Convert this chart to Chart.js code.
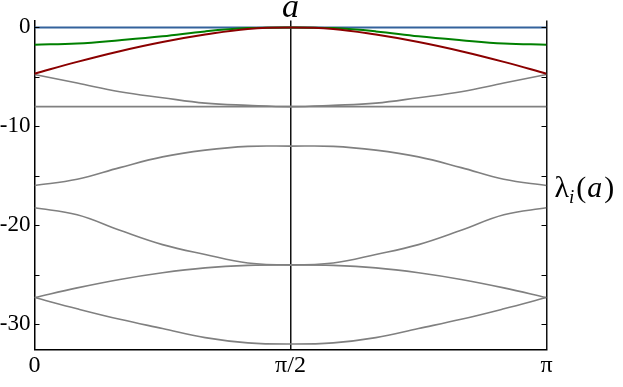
<!DOCTYPE html>
<html>
<head>
<meta charset="utf-8">
<script src="https://cdn.jsdelivr.net/npm/chart.js@4.4.0/dist/chart.umd.min.js"></script>
<style>
  body { margin: 0; background: #fff; }
</style>
</head>
<body>
<canvas id="myChart" width="623" height="387"></canvas>
<script>
// parameter a, sampled every pi/12 from 0 to pi
var aValues = [0, Math.PI / 12, 2 * Math.PI / 12, 3 * Math.PI / 12, 4 * Math.PI / 12, 5 * Math.PI / 12,
  6 * Math.PI / 12, 7 * Math.PI / 12, 8 * Math.PI / 12, 9 * Math.PI / 12, 10 * Math.PI / 12, 11 * Math.PI / 12, Math.PI];

// eigenvalue branches lambda_i(a)
var lambdaBlue  = [0, 0, 0, 0, 0, 0, 0, 0, 0, 0, 0, 0, 0];
var lambdaGreen = [-1.75, -1.62, -1.29, -0.9, -0.4, -0.07, 0, -0.07, -0.4, -0.9, -1.29, -1.62, -1.75];
var lambdaRed   = [-4.68, -3.48, -2.4, -1.47, -0.72, -0.15, 0, -0.15, -0.72, -1.47, -2.4, -3.48, -4.68];
var lambda4 = [-4.75, -5.62, -6.5, -7.1, -7.65, -7.87, -8, -7.87, -7.65, -7.1, -6.5, -5.62, -4.75];
var lambda5 = [-8, -8, -8, -8, -8, -8, -8, -8, -8, -8, -8, -8, -8];
var lambda6 = [-15.97, -15.35, -14.17, -13.08, -12.4, -12.02, -12, -12.02, -12.4, -13.08, -14.17, -15.35, -15.97];
var lambda7 = [-18.23, -18.93, -20.5, -21.95, -22.95, -23.8, -24, -23.8, -22.95, -21.95, -20.5, -18.93, -18.23];
var lambda8 = [-27.3, -26.32, -25.47, -24.79, -24.3, -24.05, -24, -24.05, -24.3, -24.79, -25.47, -26.32, -27.3];
var lambda9 = [-27.3, -28.44, -29.5, -30.43, -31.35, -31.88, -32, -31.88, -31.35, -30.43, -29.5, -28.44, -27.3];

var xTickValues = [0, Math.PI / 2, Math.PI];
var xTickLabels = ['0', 'π/2', 'π'];
var yTickValues = [0, -10, -20, -30];
var yTickLabels = ['0', '-10', '-20', '-30'];
var yMinorTicks = [-5, -15, -25];

var serif = '"Liberation Serif", "DejaVu Serif", serif';

function toPoints(ys) {
  return ys.map(function(y, i) { return { x: aValues[i], y: y }; });
}

function line(data, color, width) {
  return {
    data: toPoints(data),
    borderColor: color,
    borderWidth: width,
    pointRadius: 0,
    fill: false,
    tension: 0.4
  };
}

// inward ticks on both sides + axis texts
var extras = {
  id: 'extras',
  afterDraw: function(chart) {
    var ctx = chart.ctx;
    var area = chart.chartArea;
    var yScale = chart.scales.y;
    var xScale = chart.scales.x;
    ctx.save();
    ctx.strokeStyle = '#000';
    ctx.lineWidth = 1;
    yTickValues.concat(yMinorTicks).forEach(function(v) {
      var py = Math.round(yScale.getPixelForValue(v)) + 0.5;
      ctx.beginPath();
      ctx.moveTo(area.left, py);
      ctx.lineTo(area.left + 5, py);
      ctx.moveTo(area.right, py);
      ctx.lineTo(area.right - 5, py);
      ctx.stroke();
    });

    ctx.fillStyle = '#000';
    ctx.textBaseline = 'alphabetic';
    ctx.textAlign = 'center';
    ctx.font = 'italic 34px ' + serif;
    ctx.fillText('a', xScale.getPixelForValue(Math.PI / 2), 16.5);

    // lambda_i(a) on the right
    var x = area.right + 8;
    var base = (area.top + area.bottom) / 2 + 12;
    ctx.textAlign = 'left';
    ctx.font = '30px ' + serif;
    ctx.fillText('λ', x, base);
    x += ctx.measureText('λ').width;
    ctx.font = 'italic 19px ' + serif;
    ctx.fillText('i', x, base + 6);
    x += ctx.measureText('i').width + 2;
    ctx.font = '30px ' + serif;
    ctx.fillText('(', x, base);
    x += ctx.measureText('(').width + 1;
    ctx.font = 'italic 30px ' + serif;
    ctx.fillText('a', x, base);
    x += ctx.measureText('a').width + 2;
    ctx.font = '30px ' + serif;
    ctx.fillText(')', x, base);
    ctx.restore();
  }
};

function getChart() {
  var ctx = document.getElementById('myChart').getContext('2d');
  var myChart = new Chart(ctx, {
    type: 'line',
    data: {
      datasets: [
        line(lambdaRed, '#8b0000', 2),
        line(lambdaGreen, '#008000', 2),
        line(lambdaBlue, '#33629c', 2),
        line(lambda4, '#808080', 1.6),
        line(lambda5, '#808080', 1.6),
        line(lambda6, '#808080', 1.6),
        line(lambda7, '#808080', 1.6),
        line(lambda8, '#808080', 1.6),
        line(lambda9, '#808080', 1.6)
      ]
    },
    options: {
      responsive: false,
      animation: false,
      devicePixelRatio: 1,
      layout: { padding: { top: 20.5, right: 76.5, bottom: 0, left: 0 } },
      plugins: { legend: { display: false }, tooltip: { enabled: false } },
      scales: {
        x: {
          type: 'linear',
          min: 0,
          max: Math.PI,
          afterBuildTicks: function(s) {
            s.ticks = xTickValues.map(function(v) { return { value: v }; });
          },
          afterFit: function(s) { s.height = 37.5; },
          ticks: {
            callback: function(v, i) { return xTickLabels[i]; },
            font: { family: serif, size: 24 },
            color: '#000',
            padding: 2,
            maxRotation: 0,
            autoSkip: false
          },
          grid: {
            drawTicks: false,
            lineWidth: 1.5,
            color: function(c) {
              return c.tick && c.tick.value > 0 ? '#111' : 'rgba(0,0,0,0)';
            }
          },
          border: { display: true, color: '#000', width: 1.5 }
        },
        y: {
          min: -32.55,
          max: 0.7,
          afterBuildTicks: function(s) {
            s.ticks = yTickValues.map(function(v) { return { value: v }; });
          },
          afterFit: function(s) { s.width = 34.5; },
          ticks: {
            callback: function(v, i) { return yTickLabels[i]; },
            font: { family: serif, size: 23 },
            color: '#000',
            padding: 4
          },
          grid: { display: false, drawTicks: false },
          border: { display: true, color: '#000', width: 1.5 }
        }
      }
    },
    plugins: [extras]
  });
}

getChart();
</script>
</body>
</html>
